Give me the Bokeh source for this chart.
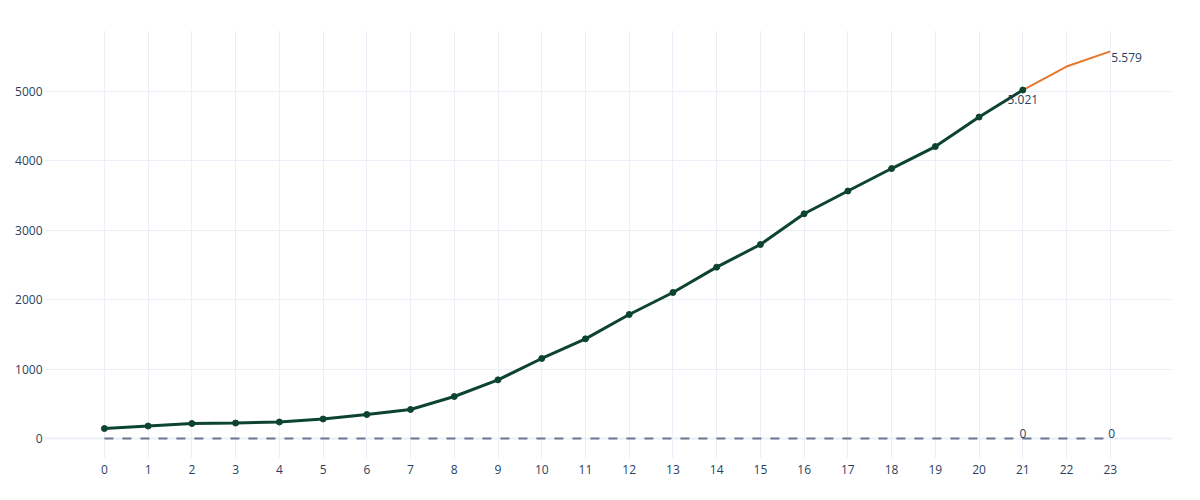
from bokeh.plotting import figure
from bokeh.models import Range1d, Span, FixedTicker, ColumnDataSource
from bokeh.embed import file_html
from bokeh.resources import INLINE

# cumulative totals per day (observed)
days = list(range(22))
totals = [144, 180, 216, 223, 238, 281, 346, 418, 605, 845, 1153, 1436,
          1787, 2104, 2469, 2795, 3238, 3566, 3890, 4207, 4632, 5021]

# projection continuing from the last observed day
proj_days = [21, 22, 23]
proj_totals = [5021, 5360, 5579]

# baseline series
base_days = list(range(24))
base_values = [0] * 24

label_days = [21, 23]
label_totals = [5021, 5579]
label_texts = ["5.021", "5.579"]
zero_texts = ["0", "0"]

TEXT = "#2a3f5f"
GRID = "#ebf0f8"
FONT = "Open Sans"

p = figure(
    width=1184,
    height=484,
    output_backend="svg",
    toolbar_location=None,
    x_range=Range1d(-1.37, 24.4),
    y_range=Range1d(-288, 5879),
    min_border_left=44,
    min_border_right=13,
    min_border_top=30,
    min_border_bottom=26,
)
p.outline_line_color = None
p.background_fill_color = "white"

for ax in (p.xaxis, p.yaxis):
    ax.axis_line_color = None
    ax.major_tick_line_color = None
    ax.minor_tick_line_color = None
    ax.major_label_text_color = TEXT
    ax.major_label_text_font = FONT
    ax.major_label_text_font_size = "12px"

p.xaxis.ticker = FixedTicker(ticks=base_days)
p.yaxis.ticker = FixedTicker(ticks=[0, 1000, 2000, 3000, 4000, 5000])
p.xaxis.major_label_standoff = 0
p.yaxis.major_label_standoff = -4

p.xgrid.ticker = FixedTicker(ticks=base_days)
p.xgrid.grid_line_color = GRID
p.ygrid.grid_line_color = GRID

p.add_layout(Span(location=0, dimension="width", line_color=GRID, line_width=2, level="underlay"))

p.line(base_days, base_values, line_color="#6b778d", line_width=2, line_dash="9 9")

p.line(proj_days, proj_totals, line_color="#e8772e", line_width=2)

p.line(days, totals, line_color="#0d4331", line_width=3)
p.scatter(days, totals, size=6, marker="circle", fill_color="#0d4331", line_color="#0d4331")

src_a = ColumnDataSource(dict(x=label_days[:1], y=label_totals[:1], t=label_texts[:1]))
p.text(x="x", y="y", text="t", source=src_a, text_align="center", text_baseline="top",
       y_offset=5, text_color=TEXT, text_font_size="12px", text_font={"value": FONT})
src_b = ColumnDataSource(dict(x=label_days[1:], y=label_totals[1:], t=label_texts[1:]))
p.text(x="x", y="y", text="t", source=src_b, text_align="left", text_baseline="top",
       x_offset=1, y_offset=2, text_color=TEXT, text_font_size="12px", text_font={"value": FONT})

src_c = ColumnDataSource(dict(x=label_days[:1], y=[0], t=zero_texts[:1]))
p.text(x="x", y="y", text="t", source=src_c, text_align="center", text_baseline="bottom",
       y_offset=-1, text_color=TEXT, text_font_size="12px", text_font={"value": FONT})
src_d = ColumnDataSource(dict(x=label_days[1:], y=[0], t=zero_texts[1:]))
p.text(x="x", y="y", text="t", source=src_d, text_align="left", text_baseline="bottom",
       x_offset=-2, y_offset=-1, text_color=TEXT, text_font_size="12px", text_font={"value": FONT})

open("out.html", "w").write(file_html(p, INLINE))
